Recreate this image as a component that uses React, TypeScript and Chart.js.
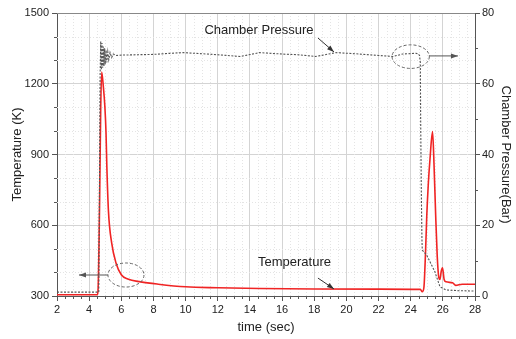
import React, { useEffect, useRef } from 'react';
import { Chart, registerables } from 'chart.js';
Chart.register(...registerables);

// ---- Data ----
const tempTime = [2, 4.5, 4.55, 4.65, 4.72, 4.78, 4.88, 4.98, 5.05, 5.1, 5.2, 5.4, 5.67, 6.0, 6.4, 7.2, 8.3, 10, 12, 14.6, 18, 22, 24.6, 24.72, 24.82, 24.92, 25.0, 25.1, 25.2, 25.36, 25.45, 25.55, 25.65, 25.75, 25.82, 25.9, 25.98, 26.08, 26.2, 26.6, 26.8, 27.2, 28];
const temperature = [305, 305, 320, 700, 1100, 1250, 1190, 1100, 990, 850, 660, 525, 440, 390, 372, 360, 350, 339, 335, 332, 330, 329, 328, 318, 335, 480, 640, 780, 880, 997, 860, 650, 470, 378, 370, 405, 420, 370, 360, 356, 345, 350, 350];

const pressTime = [2, 4.6, 4.64, 4.68, 4.72, 4.76, 4.8, 4.84, 4.88, 4.92, 4.96, 5.0, 5.05, 5.1, 5.16, 5.22, 5.3, 5.4, 5.5, 5.7, 6.0, 7.0, 8.0, 9.0, 9.85, 11.0, 12.0, 13.4, 14.6, 16.0, 17.0, 18.1, 19.35, 20.5, 22.0, 22.9, 23.5, 24.3, 24.45, 24.55, 24.6, 24.62, 24.66, 24.7, 24.72, 25.0, 25.2, 25.5, 25.82, 26.2, 27.0, 28];
const pressure = [1.1, 1.1, 30, 62, 72, 64, 71.5, 64.5, 70.5, 65, 70, 65.5, 69.5, 66, 69, 66.8, 68.8, 67.4, 68.4, 68, 68.1, 68.2, 68.3, 68.6, 68.8, 68.5, 68.2, 67.7, 68.8, 68.4, 68.2, 67.7, 68.8, 68.5, 68.0, 67.7, 68.4, 68.6, 68.5, 68, 66, 50, 30, 16, 13, 11.5, 9.7, 6.9, 2.6, 1.7, 1.5, 1.4];

const xRange = [2, 28];
const tempRange = [300, 1500];
const pressRange = [0, 80];

// annotations (data coordinates: x = time, y = temperature axis)
const textNotes = [
  { text: 'Chamber Pressure', x: 14.56, y: 1428 },
  { text: 'Temperature', x: 16.77, y: 444 },
];
const arrowNotes = [
  { x1: 18.23, y1: 1394, x2: 19.23, y2: 1335, color: '#333' },
  { x1: 18.23, y1: 376, x2: 19.23, y2: 330, color: '#333' },
  { x1: 5.17, y1: 389, x2: 3.37, y2: 389, color: '#555' },
  { x1: 25.14, y1: 1318, x2: 26.94, y2: 1318, color: '#555' },
];
const ellipseNotes = [
  { x: 6.29, y: 389, rx: 1.12, ry: 51 },
  { x: 24.0, y: 1315, rx: 1.16, ry: 50 },
];

const FONT = "'Liberation Sans', Arial, sans-serif";

const decorPlugin = {
  id: 'decor',
  beforeDatasetsDraw(chart: any) {
    const { ctx, chartArea: a, scales } = chart;
    const x = scales.x, y = scales.y, y1 = scales.y1;
    const line = (x1: number, y1_: number, x2: number, y2: number) => {
      ctx.beginPath(); ctx.moveTo(x1, y1_); ctx.lineTo(x2, y2); ctx.stroke();
    };
    ctx.save();
    ctx.lineWidth = 1;
    ctx.strokeStyle = '#e4e4e4';
    ctx.setLineDash([1, 2]);
    for (let v = xRange[0]; v <= xRange[1]; v += 0.5) {
      if (v % 2 === 0) continue;
      const px = Math.round(x.getPixelForValue(v)) + 0.5;
      line(px, a.top, px, a.bottom);
    }
    for (let v = tempRange[0]; v <= tempRange[1]; v += 100) {
      if (v % 300 === 0) continue;
      const py = Math.round(y.getPixelForValue(v)) + 0.5;
      line(a.left, py, a.right, py);
    }
    ctx.setLineDash([]);
    ctx.strokeStyle = '#555';
    for (let v = xRange[0]; v <= xRange[1]; v += 0.5) {
      if (v % 2 === 0) continue;
      const px = Math.round(x.getPixelForValue(v)) + 0.5;
      line(px, a.bottom, px, a.bottom + 3);
    }
    for (let v = tempRange[0]; v <= tempRange[1]; v += 100) {
      if (v % 300 === 0) continue;
      const py = Math.round(y.getPixelForValue(v)) + 0.5;
      line(a.left - 3, py, a.left, py);
    }
    for (let v = pressRange[0]; v <= pressRange[1]; v += 10) {
      if (v % 20 === 0) continue;
      const py = Math.round(y1.getPixelForValue(v)) + 0.5;
      line(a.right, py, a.right + 3, py);
    }
    ctx.strokeStyle = '#888';
    line(a.left, Math.round(a.top) + 0.5, a.right, Math.round(a.top) + 0.5);
    ctx.restore();
  },
  afterDatasetsDraw(chart: any) {
    const { ctx, scales } = chart;
    const x = scales.x, y = scales.y;
    ctx.save();
    ctx.strokeStyle = '#666';
    ctx.lineWidth = 1;
    ctx.setLineDash([3, 2]);
    for (const e of ellipseNotes) {
      const cx = x.getPixelForValue(e.x), cy = y.getPixelForValue(e.y);
      const rx = Math.abs(x.getPixelForValue(e.x + e.rx) - cx);
      const ry = Math.abs(y.getPixelForValue(e.y + e.ry) - cy);
      ctx.beginPath();
      ctx.ellipse(cx, cy, rx, ry, 0, 0, Math.PI * 2);
      ctx.stroke();
    }
    ctx.setLineDash([]);
    for (const ar of arrowNotes) {
      const x1 = x.getPixelForValue(ar.x1), y1 = y.getPixelForValue(ar.y1);
      const x2 = x.getPixelForValue(ar.x2), y2 = y.getPixelForValue(ar.y2);
      ctx.strokeStyle = ar.color; ctx.fillStyle = ar.color;
      ctx.beginPath(); ctx.moveTo(x1, y1); ctx.lineTo(x2, y2); ctx.stroke();
      const ang = Math.atan2(y2 - y1, x2 - x1);
      const L = 7, W = 2.5;
      ctx.beginPath();
      ctx.moveTo(x2, y2);
      ctx.lineTo(x2 - L * Math.cos(ang) + W * Math.sin(ang), y2 - L * Math.sin(ang) - W * Math.cos(ang));
      ctx.lineTo(x2 - L * Math.cos(ang) - W * Math.sin(ang), y2 - L * Math.sin(ang) + W * Math.cos(ang));
      ctx.closePath();
      ctx.fill();
    }
    ctx.fillStyle = '#222';
    ctx.font = `13px ${FONT}`;
    ctx.textAlign = 'center';
    ctx.textBaseline = 'middle';
    for (const t of textNotes) {
      ctx.fillText(t.text, x.getPixelForValue(t.x), y.getPixelForValue(t.y));
    }
    ctx.restore();
  },
};

export default function App() {
  const ref = useRef<HTMLCanvasElement | null>(null);
  useEffect(() => {
    if (!ref.current) return;
    const tickFont = { size: 11, family: FONT };
    const titleFont = { size: 13, family: FONT };
    const plain = (v: any) => String(v);
    const chart = new Chart(ref.current, {
      type: 'line',
      data: {
        datasets: [
          {
            label: 'Temperature',
            data: tempTime.map((t, i) => ({ x: t, y: temperature[i] })),
            yAxisID: 'y',
            borderColor: '#f02424',
            borderWidth: 1.6,
            pointRadius: 0,
            cubicInterpolationMode: 'monotone',
            order: 2,
          },
          {
            label: 'Chamber Pressure',
            data: pressTime.map((t, i) => ({ x: t, y: pressure[i] })),
            yAxisID: 'y1',
            borderColor: '#555',
            borderWidth: 1.1,
            borderDash: [2, 1.5],
            pointRadius: 0,
            tension: 0,
            order: 1,
          },
        ],
      },
      options: {
        animation: false,
        responsive: false,
        parsing: false,
        layout: { padding: { top: 13, left: 0, right: 0, bottom: 0 } },
        plugins: { legend: { display: false }, tooltip: { enabled: false } },
        scales: {
          x: {
            type: 'linear',
            min: xRange[0],
            max: xRange[1],
            ticks: { stepSize: 2, font: tickFont, color: '#222', padding: 2, maxRotation: 0, autoSkip: false, callback: plain },
            grid: { color: '#d4d4d4', tickColor: '#555', tickLength: 5 },
            border: { color: '#555' },
            title: { display: true, text: 'time (sec)', font: titleFont, color: '#222', padding: { top: 0, bottom: 4 } },
            afterFit: (s: any) => { s.height = 43; },
          },
          y: {
            type: 'linear',
            position: 'left',
            min: tempRange[0],
            max: tempRange[1],
            ticks: { stepSize: 300, font: tickFont, color: '#222', padding: 3, callback: plain },
            grid: { color: '#d4d4d4', tickColor: '#555', tickLength: 5 },
            border: { color: '#555' },
            title: { display: true, text: 'Temperature (K)', font: titleFont, color: '#222', padding: { top: 10, bottom: 0 } },
            afterFit: (s: any) => { s.width = 57; },
          },
          y1: {
            type: 'linear',
            position: 'right',
            min: pressRange[0],
            max: pressRange[1],
            ticks: { stepSize: 20, font: tickFont, color: '#222', padding: 2, callback: plain },
            grid: { drawOnChartArea: false, tickColor: '#555', tickLength: 5 },
            border: { color: '#555' },
            title: { display: true, text: 'Chamber Pressure(Bar)', font: titleFont, color: '#222', padding: { top: 3, bottom: 0 } },
            afterFit: (s: any) => { s.width = 41; },
          },
        },
      } as any,
      plugins: [decorPlugin],
    });
    return () => chart.destroy();
  }, []);
  return (
    <div style={{ position: 'absolute', left: 0, top: 0, width: 516, height: 339, background: '#fff' }}>
      <canvas ref={ref} width={516} height={339} style={{ display: 'block' }} />
    </div>
  );
}
